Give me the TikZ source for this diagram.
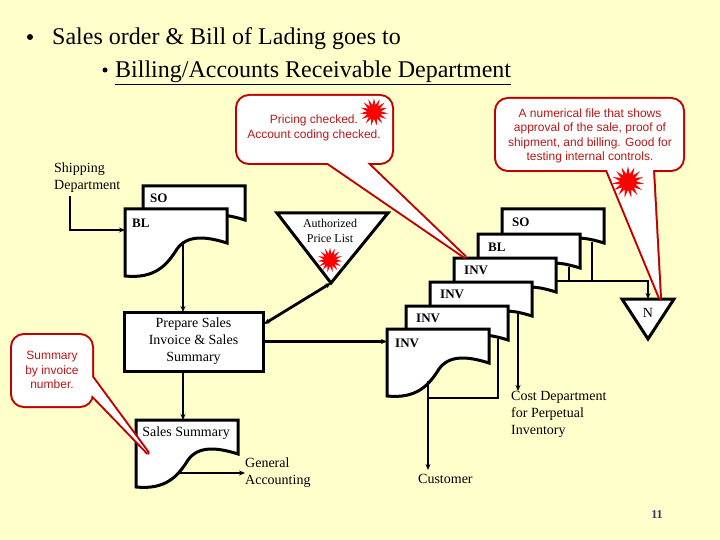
\documentclass[tikz,border=0pt]{standalone}
\usepackage{fontspec}
\setmainfont{Liberation Serif}
\newfontfamily\arialf{Liberation Sans}
\usetikzlibrary{arrows.meta,shapes.geometric,calc}
\definecolor{bgyellow}{HTML}{FFFFCC}
\definecolor{callred}{HTML}{C00000}
\definecolor{calltext}{HTML}{B81818}
\definecolor{pagenum}{HTML}{333366}
\begin{document}
\begin{tikzpicture}[x=1pt,y=-1pt,
  conn/.style={line width=2.8pt},
  arr/.style={line width=2.8pt,-{Stealth[length=6pt,width=5pt]}},
  dbl/.style={line width=2.8pt,{Stealth[length=6pt,width=5pt]}-{Stealth[length=6pt,width=5pt]}},
  lbl/.style={font=\fontsize{14}{17}\selectfont, inner sep=0pt, align=left},
  doclbl/.style={font=\fontsize{13}{15}\selectfont\bfseries, inner sep=0pt, anchor=west},
  ctext/.style={font=\arialf\fontsize{12}{14.3}\selectfont, text=calltext, align=center, inner sep=0pt},
  burst/.style={star, star points=15, star point ratio=2, fill=red, draw=none, inner sep=0pt, minimum size=#1},
  cborder/.style={draw=callred, line width=4pt, line join=round},
  shapeline/.style={line width=3pt, fill=white, line join=miter},
  bulletdot/.style={circle, fill=black, inner sep=0pt, minimum size=#1},
  pics/docshape/.style={code={
     \draw[shapeline] (0,0) -- (102,0) -- (102,34)
       .. controls (80,27) and (62,26) .. (52,40)
       .. controls (42,56) and (30,70) .. (0,67) -- cycle;
  }},
]
% background
\fill[bgyellow] (0,0) rectangle (720,540);
\useasboundingbox (0,0) rectangle (720,540);

% title
\node[bulletdot=6pt] (bul1) at (30,37) {};
\node[anchor=base west, inner sep=0pt, font=\fontsize{24}{28}\selectfont] (t1) at (52,45) {Sales order \& Bill of Lading goes to};
\node[bulletdot=5pt] (bul2) at (105,70) {};
\node[anchor=base west, inner sep=0pt, font=\fontsize{24}{28}\selectfont] (t2) at (115,78) {\underline{Billing/Accounts Receivable Department}};

% shipping department
\node[lbl, anchor=west] (ship) at (54,178) {Shipping\\Department};
\coordinate (shipdn) at (70,196);
\coordinate (blin) at (125,230);

% SO and BL documents
\pic at (143,186) {docshape};
\node[doclbl] (so1) at (150,198) {SO};
\pic at (125,209) {docshape};
\node[doclbl] (bl1) at (132,223) {BL};
\draw[arr] (shipdn) |- (blin);
\coordinate (blbot) at (183,243);

% prepare box
\node[draw, line width=3pt, fill=white, minimum width=139pt, minimum height=59pt,
      align=center, font=\fontsize{14}{17}\selectfont, inner sep=0pt] (prep) at (193.5,341.5)
      {Prepare Sales\\Invoice \& Sales\\Summary};
\coordinate (preptop) at (183,312);
\draw[arr] (blbot) -- (preptop);

% authorized price list
\coordinate (aplA) at (277,213);
\coordinate (aplB) at (388,213);
\coordinate (aplC) at (331,283);
\draw[shapeline] (aplA) -- (aplB) -- (aplC) -- cycle;
\node[lbl, align=center, font=\fontsize{12}{15}\selectfont] (apl) at (330,231) {Authorized\\Price List};
\node[burst=25pt] (burst3) at (330,260) {};
\coordinate (prepne) at (264,324);
\draw[dbl] (aplC) -- (prepne);

% sales summary
\pic at (136,420) {docshape};
\node[font=\fontsize{14}{17}\selectfont, inner sep=0pt] (ssum) at (186,433) {Sales Summary};
\coordinate (prepbot) at (183,371.5);
\coordinate (ssumtop) at (183,420);
\draw[arr] (prepbot) -- (ssumtop);
\coordinate (ssumout) at (178,473);
\node[lbl, anchor=west] (genacc) at (245,473) {General\\Accounting};
\draw[arr] (ssumout) -- (genacc.west);

% document stack
\pic at (502,209) {docshape};
\node[doclbl] (so2) at (512,222) {SO};
\pic at (478,234) {docshape};
\node[doclbl] (bl2) at (488,247) {BL};
\pic at (454,258) {docshape};
\node[doclbl] (inv1) at (464,270) {INV};
\pic at (430,282) {docshape};
\node[doclbl] (inv2) at (440,294) {INV};
\pic at (406,306) {docshape};
\node[doclbl] (inv3) at (416,318) {INV};
\pic at (387,329) {docshape};
\node[doclbl] (inv4) at (395,343) {INV};

\coordinate (invin) at (387,341.5);
\draw[arr] (prep.east) -- (invin);

% to numerical file
\coordinate (so2b) at (592,242);
\coordinate (bl2b) at (569,267);
\coordinate (inv1r) at (556,281);
\coordinate (j1) at (592,281);
\coordinate (j2) at (569,281);
\coordinate (nA) at (622,299);
\coordinate (nB) at (674,299);
\coordinate (nC) at (648,339);
\coordinate (ntop) at (648,299);
\draw[conn] (so2b) -- (j1);
\draw[conn] (bl2b) -- (j2);
\draw[arr] (inv1r) -| (ntop);
\draw[shapeline] (nA) -- (nB) -- (nC) -- cycle;
\node[font=\fontsize{14}{17}\selectfont, inner sep=0pt] (nlbl) at (648,313) {N};

% cost department
\coordinate (inv2b) at (518,314);
\node[lbl, anchor=north west] (cost) at (511,391) {Cost Department\\for Perpetual\\Inventory};
\coordinate (costtop) at (518,391);
\draw[arr] (inv2b) -- (costtop);

% customer
\coordinate (inv3b) at (498,339);
\coordinate (corner) at (498,398);
\coordinate (jc) at (428,398);
\coordinate (inv4b) at (428,381);
\node[font=\fontsize{14}{17}\selectfont, inner sep=0pt, anchor=west] (cust) at (418,479) {Customer};
\coordinate (custtop) at (428,470);
\draw[conn] (inv3b) -- (corner) -- (jc);
\draw[arr] (inv4b) -- (custtop);

% page number
\node[font=\fontsize{12}{14}\selectfont\bfseries, text=pagenum, inner sep=0pt] (pnum) at (657,515) {11};

% callout 1
\draw[cborder, rounded corners=12pt] (237,96) rectangle (392,163);
\draw[cborder] (328,163) -- (465,257) -- (367,163) -- cycle;
\fill[white, rounded corners=12pt] (237,96) rectangle (392,163);
\fill[white] (328,163) -- (465,257) -- (367,163) -- cycle;
\node[ctext] (c1) at (314,128) {Pricing checked.\\Account coding checked.};
\node[burst=28pt] (burst1) at (374,112) {};

% callout 2
\draw[cborder, rounded corners=12pt] (496,99) rectangle (683,170);
\draw[cborder] (607,170) -- (660,298) -- (653,170) -- cycle;
\fill[white, rounded corners=12pt] (496,99) rectangle (683,170);
\fill[white] (607,170) -- (660,298) -- (653,170) -- cycle;
\node[ctext] (c2) at (590,136) {A numerical file that shows\\approval of the sale, proof of\\shipment, and billing. Good for\\testing internal controls.};
\node[burst=32pt] (burst2) at (628,182) {};

% callout 3
\draw[cborder, rounded corners=12pt] (12,335) rectangle (92,406);
\draw[cborder] (92,377) -- (148,453) -- (92,395) -- cycle;
\fill[white, rounded corners=12pt] (12,335) rectangle (92,406);
\fill[white] (92,377) -- (148,453) -- (92,395) -- cycle;
\node[ctext] (c3) at (52,370) {Summary\\by invoice\\number.};
\end{tikzpicture}
\end{document}
